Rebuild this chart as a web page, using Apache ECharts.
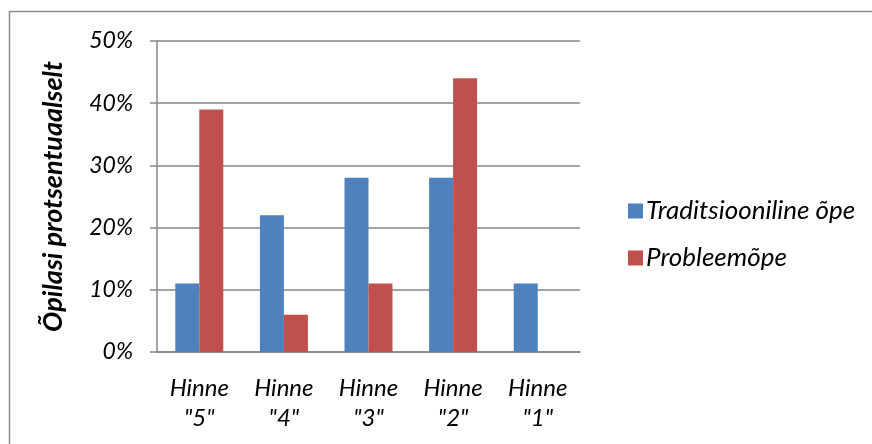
<!DOCTYPE html>
<html lang="et">
<head>
    <meta charset="UTF-8">
    <title>Hinded</title>
    <style>
        html, body {
            margin: 0;
            padding: 0;
            background: #fff;
        }

        #main {
            width: 872px;
            height: 444px;
        }
    </style>
</head>
<body>
<div id="main"></div>
<script src="https://cdn.jsdelivr.net/npm/echarts@6/dist/echarts.min.js"></script>
<script>
    const categories = ['Hinne\n"5"', 'Hinne\n"4"', 'Hinne\n"3"', 'Hinne\n"2"', 'Hinne\n"1"']
    const seriesNames = ['Traditsiooniline õpe', 'Probleemõpe']
    const traditsiooniline = [11, 22, 28, 28, 11]
    const probleemope = [39, 6, 11, 44, 0]

    const font = 'Lato, "Open Sans", sans-serif'

    let myChart = echarts.init(document.querySelector('#main'))
    let option = {
        animation: false,
        color: ['#4f81bd', '#c0504d'],
        graphic: [
            {
                type: 'rect',
                shape: {x: 9.5, y: 11.5, width: 900, height: 500},
                style: {fill: 'none', stroke: '#8c8c8c', lineWidth: 1.5},
                silent: true
            }
        ],
        grid: {
            left: 157,
            right: 292,
            top: 41,
            bottom: 92,
            containLabel: false
        },
        legend: {
            orient: 'vertical',
            left: 623,
            top: 193,
            itemWidth: 15,
            itemHeight: 15,
            itemGap: 21,
            icon: 'rect',
            textStyle: {
                fontFamily: font,
                fontStyle: 'italic',
                fontSize: 26,
                lineHeight: 20,
                color: '#000',
                padding: [0, 0, 0, -2]
            },
            data: seriesNames
        },
        xAxis: {
            type: 'category',
            data: categories,
            axisLine: {lineStyle: {color: '#868686', width: 1.5}},
            axisTick: {show: false},
            axisLabel: {
                fontFamily: font,
                fontStyle: 'italic',
                fontSize: 24,
                color: '#000',
                lineHeight: 30,
                margin: 21
            }
        },
        yAxis: {
            type: 'value',
            min: 0,
            max: 50,
            interval: 10,
            name: 'Õpilasi protsentuaalselt',
            nameLocation: 'middle',
            nameRotate: 90,
            nameGap: 90,
            nameTextStyle: {
                fontFamily: font,
                fontStyle: 'italic',
                fontWeight: 'bold',
                fontSize: 27,
                color: '#000'
            },
            axisLine: {show: true, lineStyle: {color: '#868686', width: 1.5}},
            axisTick: {show: true, length: 7, lineStyle: {color: '#868686', width: 1.5}},
            splitLine: {lineStyle: {color: '#868686', width: 1.5}},
            axisLabel: {
                formatter: '{value}%',
                fontFamily: font,
                fontStyle: 'italic',
                fontSize: 23,
                color: '#000',
                margin: 24
            }
        },
        series: [
            {
                name: seriesNames[0],
                type: 'bar',
                barWidth: 24,
                barGap: '0%',
                data: traditsiooniline
            },
            {
                name: seriesNames[1],
                type: 'bar',
                barWidth: 24,
                barGap: '0%',
                data: probleemope
            }
        ]
    }
    myChart.setOption(option)
</script>
</body>
</html>
